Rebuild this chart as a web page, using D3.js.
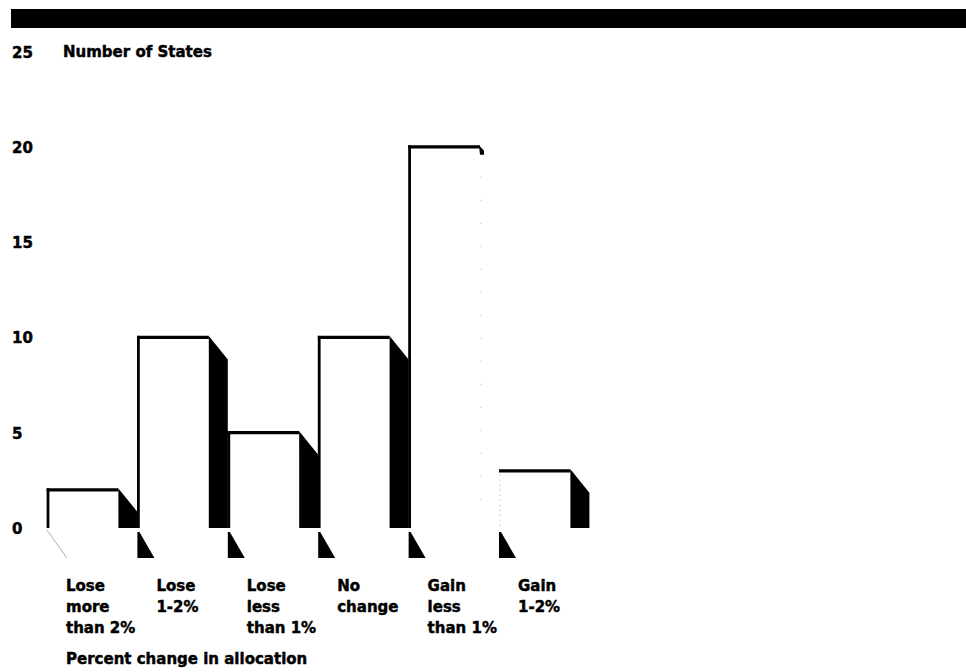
<!DOCTYPE html>
<html>
<head>
<meta charset="utf-8">
<script src="https://cdn.jsdelivr.net/npm/d3@7/dist/d3.min.js"></script>
<style>
  html, body { margin: 0; padding: 0; background: #fff; }
  svg { display: block; }
  text { font-family: "DejaVu Sans", sans-serif; font-weight: bold; fill: #000; stroke: #000; stroke-width: 0.45px; }
</style>
</head>
<body>
<script>
// ---- data ----
const categories = ["Lose more than 2%", "Lose 1-2%", "Lose less than 1%", "No change", "Gain less than 1%", "Gain 1-2%"];
const labelLines = [["Lose", "more", "than 2%"], ["Lose", "1-2%"], ["Lose", "less", "than 1%"], ["No", "change"], ["Gain", "less", "than 1%"], ["Gain", "1-2%"]];
const values = [2, 10, 5, 10, 20, 3];
const yTicks = [0, 5, 10, 15, 20, 25];
const yTitle = "Number of States";
const xTitle = "Percent change in allocation";

// ---- layout ----
const W = 966, H = 672;
const svg = d3.select("body").append("svg").attr("width", W).attr("height", H);

const y = d3.scaleLinear().domain([0, 25]).range([528, 51.5]);
const x = d3.scaleBand().domain(categories).range([47, 47 + 6 * 90.4]).paddingInner(0).paddingOuter(0);
const sideW = 19, sideDrop = 22;
const frontW = x.bandwidth() - sideW;

// top black band
svg.append("rect").attr("x", 11).attr("y", 9).attr("width", W - 11).attr("height", 19).attr("fill", "#000");

// y axis (labels only)
const yAxis = svg.append("g").attr("transform", "translate(12,0)")
  .call(d3.axisLeft(y).tickValues(yTicks).tickSize(0).tickPadding(0));
yAxis.select(".domain").remove();
yAxis.selectAll("text")
  .attr("x", 0).attr("dy", null).attr("y", 5.5)
  .attr("text-anchor", "start")
  .style("font-family", "'DejaVu Sans', sans-serif")
  .style("font-weight", "bold")
  .style("font-size", "15px")
  .attr("fill", "#000");

svg.append("text").attr("x", 63).attr("y", y(25) + 5.5).style("font-size", "15px").text(yTitle);

// bars
const base = y(0);
const bars = svg.append("g");
categories.forEach((c, i) => {
  const v = values[i];
  const xl = x(c);
  const xr = xl + frontW;
  const top = y(v);
  const g = bars.append("g");
  // side face
  if (i === 4) {
    // side face dropped out in the print: only a small dark nub at the top corner
    g.append("polygon")
      .attr("points", [[xr - 1, top - 1.5], [xr + 4, top + 4], [xr + 4, top + 8], [xr, top + 8]].map(p => p.join(",")).join(" "))
      .attr("fill", "#000");
    g.append("line").attr("x1", xr + 1).attr("x2", xr + 1).attr("y1", top + 30).attr("y2", base - 8)
      .attr("stroke", "#bbb").attr("stroke-width", 1).attr("stroke-dasharray", "1,22");
  } else {
    g.append("polygon")
      .attr("points", [[xr, top - 1.5], [xr + sideW, top + sideDrop], [xr + sideW, base], [xr, base]].map(p => p.join(",")).join(" "))
      .attr("fill", "#000");
  }
  // front outline: left edge + top edge
  if (i === 5) {
    g.append("line").attr("x1", xl + 1).attr("x2", xl + 1).attr("y1", top + 4).attr("y2", base)
      .attr("stroke", "#aaa").attr("stroke-width", 1).attr("stroke-dasharray", "1,4");
  } else {
    g.append("line").attr("x1", xl + 1).attr("x2", xl + 1).attr("y1", top - 1.5).attr("y2", base)
      .attr("stroke", "#000").attr("stroke-width", 2.8);
  }
  g.append("line").attr("x1", i === 5 ? xl : xl - 0.4).attr("x2", xr).attr("y1", top).attr("y2", top)
    .attr("stroke", "#000").attr("stroke-width", 3.2);

  // floor shadow wedge below the baseline
  if (i === 0) {
    g.append("line").attr("x1", xl).attr("y1", base + 2).attr("x2", xl + 20).attr("y2", base + 30)
      .attr("stroke", "#999").attr("stroke-width", 0.8);
  } else {
    g.append("polygon")
      .attr("points", [[xl, base + 4], [xl + 2, base + 4], [xl + 17, base + 30], [xl, base + 30]].map(p => p.join(",")).join(" "))
      .attr("fill", "#000");
  }

  // category label
  const t = g.append("text").attr("x", xl + 19).attr("y", 591).style("font-size", "15px");
  labelLines[i].forEach((ln, k) => {
    t.append("tspan").attr("x", xl + 19).attr("y", 591 + k * 21).text(ln);
  });
});

svg.append("text").attr("x", 66).attr("y", 664).style("font-size", "15px").text(xTitle);
</script>
</body>
</html>
